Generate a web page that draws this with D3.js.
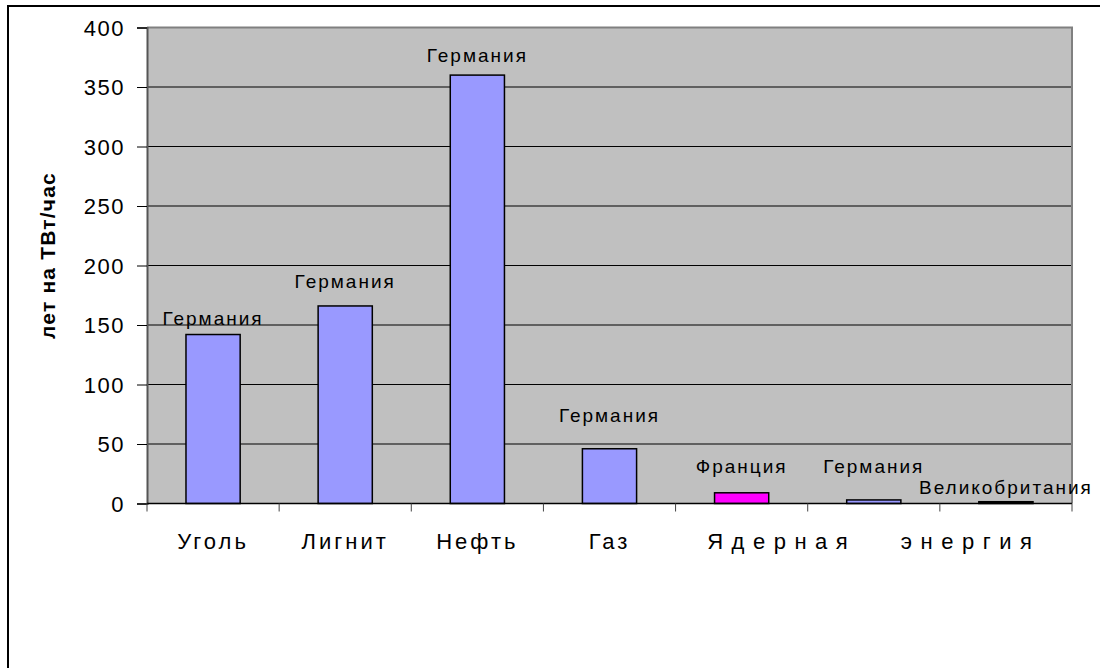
<!DOCTYPE html>
<html>
<head>
<meta charset="utf-8">
<script src="https://cdn.jsdelivr.net/npm/d3@7"></script>
<style>
  body { margin: 0; background: #fff; }
  svg { display: block; font-family: Arial, "Liberation Sans", sans-serif; }
</style>
</head>
<body>
<svg id="chart" width="1100" height="668"></svg>
<script>
// chart values
var categories = ["Уголь", "Лигнит", "Нефть", "Газ", "", "Ядерная энергия", ""];
var values = [142, 166, 360, 46, 9, 3, 1.5];
var countries = ["Германия", "Германия", "Германия", "Германия", "Франция", "Германия", "Великобритания"];
var barColors = ["#9999ff", "#9999ff", "#9999ff", "#9999ff", "#ff00ff", "#9999ff", "#000000"];
var yTicks = [0, 50, 100, 150, 200, 250, 300, 350, 400];
var yTitle = "лет на ТВт/час";

// labels were placed by hand in the original, so the gap above each bar differs
var labelGap = [10, 18, 13, 27, 20, 27, 8];

var svg = d3.select("#chart");
var m = { left: 147, right: 1072, top: 27.5, bottom: 503.5 };

// outer frame (only left and top edges show)
svg.append("rect")
    .attr("x", 8).attr("y", 6)
    .attr("width", 1200).attr("height", 900)
    .attr("fill", "none").attr("stroke", "#000").attr("stroke-width", 2);

var x = d3.scaleBand()
    .domain(d3.range(categories.length))
    .range([m.left, m.right])
    .paddingInner(0).paddingOuter(0);

var y = d3.scaleLinear().domain([0, 400]).range([m.bottom, m.top]);

// plot background
svg.append("rect")
    .attr("x", m.left).attr("y", m.top)
    .attr("width", m.right - m.left).attr("height", m.bottom - m.top)
    .attr("fill", "#c0c0c0");

// gridlines
svg.append("g").selectAll("line")
    .data(yTicks.filter(function (d) { return d > 0 && d < 400; }))
    .enter().append("line")
    .attr("x1", m.left).attr("x2", m.right)
    .attr("y1", function (d) { return y(d); })
    .attr("y2", function (d) { return y(d); })
    .attr("stroke", "#000").attr("stroke-width", 1);

// plot border top + right
svg.append("path")
    .attr("d", "M" + m.left + "," + m.top + "H" + m.right + "V" + m.bottom)
    .attr("fill", "none").attr("stroke", "#808080").attr("stroke-width", 2);

// y axis
var yAxis = d3.axisLeft(y).tickValues(yTicks).tickSize(10).tickPadding(12);
var gy = svg.append("g")
    .attr("transform", "translate(" + m.left + ",0)")
    .call(yAxis);
gy.select(".domain").attr("stroke", "#555").attr("stroke-width", 2);
gy.selectAll(".tick line").attr("stroke", "#000");
gy.selectAll(".tick text")
    .attr("font-size", 22).attr("letter-spacing", 1.5)
    .attr("fill", "#000").attr("dy", "0.36em");

// bars
svg.append("g").selectAll("rect")
    .data(values)
    .enter().append("rect")
    .attr("x", function (d, i) { return x(i) + x.bandwidth() * 0.295; })
    .attr("width", x.bandwidth() * 0.41)
    .attr("y", function (d) { return y(d); })
    .attr("height", function (d) { return y(0) - y(d); })
    .attr("fill", function (d, i) { return barColors[i]; })
    .attr("stroke", "#000").attr("stroke-width", 1.5);

// x axis
var xAxis = d3.axisBottom(x).tickSize(0).tickFormat(function (i) { return categories[i]; });
var gx = svg.append("g")
    .attr("transform", "translate(0," + m.bottom + ")")
    .call(xAxis);
gx.select(".domain").remove();
svg.append("line")
    .attr("x1", m.left).attr("x2", m.right)
    .attr("y1", m.bottom).attr("y2", m.bottom)
    .attr("stroke", "#000").attr("stroke-width", 1.5);
svg.append("g").selectAll("line")
    .data(d3.range(categories.length + 1))
    .enter().append("line")
    .attr("x1", function (i) { return m.left + i * x.step(); })
    .attr("x2", function (i) { return m.left + i * x.step(); })
    .attr("y1", m.bottom).attr("y2", m.bottom + 8)
    .attr("stroke", "#444").attr("stroke-width", 1);
gx.selectAll(".tick text")
    .attr("font-size", 22).attr("fill", "#000")
    .attr("y", 30)
    .attr("letter-spacing", function (i) { return categories[i].indexOf(" ") > 0 ? 8.5 : 3; })
    .attr("word-spacing", function (i) { return categories[i].indexOf(" ") > 0 ? 30 : 0; });

// data labels
svg.append("g").selectAll("text")
    .data(values)
    .enter().append("text")
    .attr("x", function (d, i) { return x(i) + x.bandwidth() / 2; })
    .attr("y", function (d, i) { return y(d) - labelGap[i]; })
    .attr("text-anchor", "middle")
    .attr("font-size", 19).attr("letter-spacing", 2)
    .attr("fill", "#000")
    .text(function (d, i) { return countries[i]; });

// y title
svg.append("text")
    .attr("transform", "translate(55," + ((m.top + m.bottom) / 2 - 10) + ") rotate(-90)")
    .attr("text-anchor", "middle")
    .attr("font-size", 21).attr("font-weight", "bold").attr("letter-spacing", 1.2)
    .attr("fill", "#000")
    .text(yTitle);
</script>
</body>
</html>
